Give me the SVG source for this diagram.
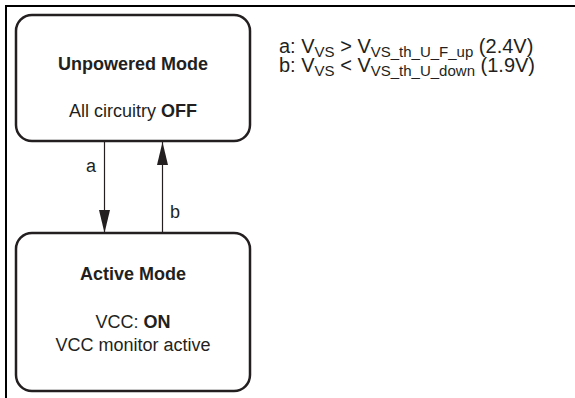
<svg xmlns="http://www.w3.org/2000/svg" width="575" height="398" viewBox="0 0 575 398">
<style>
text{font-family:"Liberation Sans",Arial,sans-serif;fill:#231f20}
.t{font-size:18px}
.b{font-weight:bold}
.box{fill:#fff;stroke:#231f20;stroke-width:2.5}
.lg{font-size:20px}
.sub{font-size:15px}
.conn{stroke:#231f20;stroke-width:1.2;fill:none}
</style>
<defs>
<marker id="ah" markerWidth="23" markerHeight="11" refX="23" refY="5.5" orient="auto" markerUnits="userSpaceOnUse" viewBox="0 0 23 11">
<path d="M0,0 L23,5.5 L0,11 Z" fill="#231f20"/>
</marker>
</defs>
<rect width="575" height="398" fill="#fff"/>
<path d="M6,398 V6 H575" fill="none" stroke="#000" stroke-width="2"/>
<g id="connectors">
<line class="conn" x1="104.5" y1="142" x2="104.5" y2="233" marker-end="url(#ah)"/>
<line class="conn" x1="162.5" y1="233" x2="162.5" y2="142" marker-end="url(#ah)"/>
<text class="t" x="86" y="172">a</text>
<text class="t" x="170" y="218">b</text>
</g>
<g id="unpowered">
<rect class="box" x="16" y="15" width="234" height="126" rx="16"/>
<text class="t b" x="133" y="70" text-anchor="middle">Unpowered Mode</text>
<text class="t" x="133" y="117" text-anchor="middle">All circuitry <tspan class="b">OFF</tspan></text>
</g>
<g id="active">
<rect class="box" x="16" y="233" width="234" height="158" rx="16"/>
<text class="t b" x="133" y="280" text-anchor="middle">Active Mode</text>
<text class="t" x="133" y="328" text-anchor="middle">VCC: <tspan class="b">ON</tspan></text>
<text class="t" x="133" y="351" text-anchor="middle">VCC monitor active</text>
</g>
<g id="legend">
<text class="lg" x="279" y="53">a: V<tspan class="sub" dy="4">VS</tspan><tspan dy="-4"> &gt; V</tspan><tspan class="sub" dy="4">VS_th_U_F_up</tspan><tspan dy="-4"> (2.4V)</tspan></text>
<text class="lg" x="279" y="72">b: V<tspan class="sub" dy="4">VS</tspan><tspan dy="-4"> &lt; V</tspan><tspan class="sub" dy="4">VS_th_U_down</tspan><tspan dy="-4"> (1.9V)</tspan></text>
</g>
</svg>
